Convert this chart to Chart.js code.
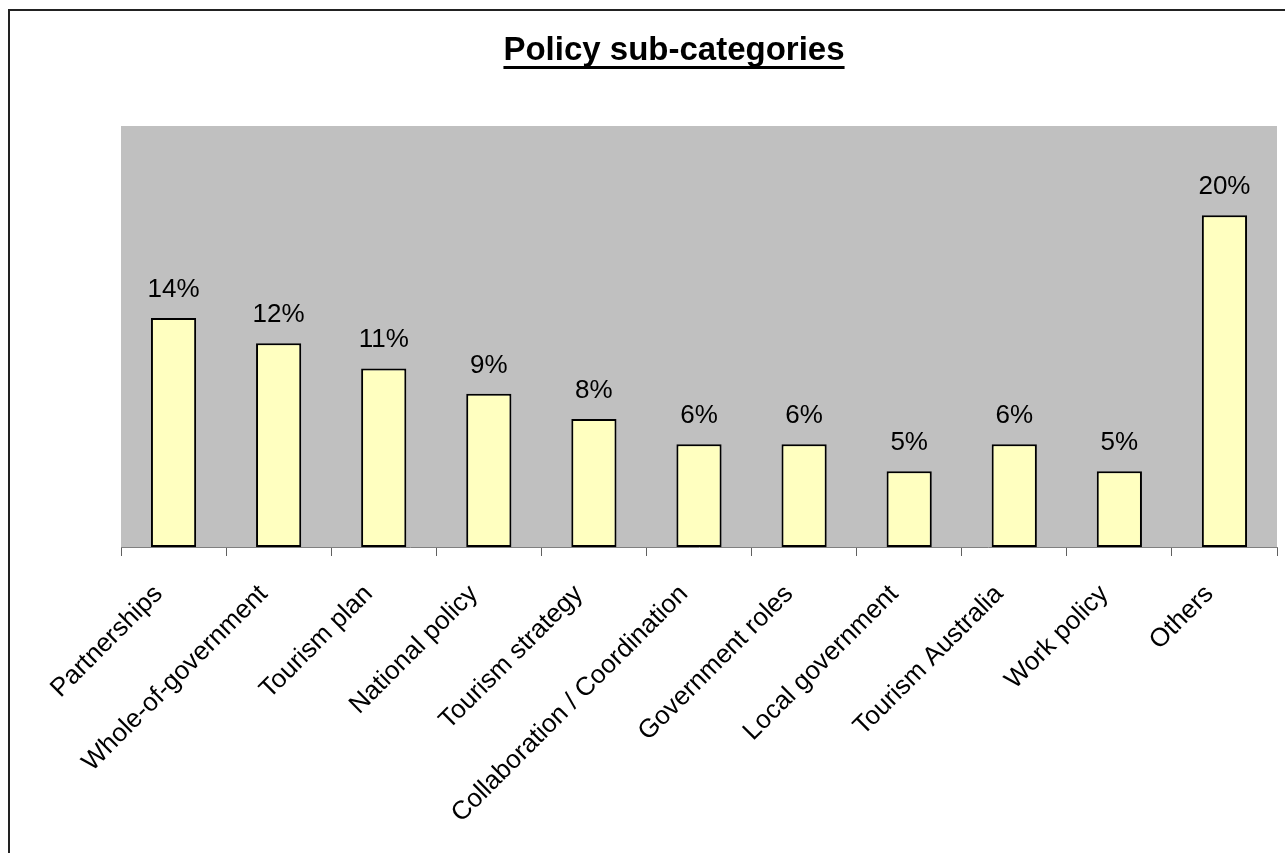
<!DOCTYPE html>
<html>
<head>
<meta charset="utf-8">
<script src="https://cdn.jsdelivr.net/npm/chart.js@4/dist/chart.umd.min.js"></script>
<style>
  html, body { margin: 0; padding: 0; background: #fff; }
  #wrap { position: relative; width: 1285px; height: 853px; }
</style>
</head>
<body>
<div id="wrap"><canvas id="chart" width="1285" height="853"></canvas></div>
<script>
// chart data
const chartTitle = 'Policy sub-categories';
const categories = ['Partnerships', 'Whole-of-government', 'Tourism plan', 'National policy',
  'Tourism strategy', 'Collaboration / Coordination', 'Government roles', 'Local government',
  'Tourism Australia', 'Work policy', 'Others'];
const shares = [13.6, 12.1, 10.6, 9.1, 7.6, 6.1, 6.1, 4.5, 6.1, 4.5, 19.7];
const shareLabels = ['14%', '12%', '11%', '9%', '8%', '6%', '6%', '5%', '6%', '5%', '20%'];

const FONT = '"Liberation Sans", Arial, sans-serif';

// background, frame, gray plot area and underlined title
const decor = {
  id: 'decor',
  beforeDraw(chart) {
    const { ctx, chartArea: a } = chart;
    ctx.save();
    ctx.fillStyle = '#fff';
    ctx.fillRect(0, 0, chart.width, chart.height);
    ctx.fillStyle = '#C0C0C0';
    ctx.fillRect(a.left, a.top, a.right - a.left, a.bottom - a.top);
    ctx.strokeStyle = '#222';
    ctx.lineWidth = 2;
    ctx.strokeRect(9, 10, chart.width + 50, chart.height + 50);
    // title
    ctx.font = 'bold 33px ' + FONT;
    ctx.fillStyle = '#000';
    ctx.textAlign = 'center';
    ctx.textBaseline = 'alphabetic';
    const cx = 674;
    ctx.fillText(chartTitle, cx, 60);
    const w = ctx.measureText(chartTitle).width;
    ctx.fillRect(cx - w / 2, 66, w, 3);
    ctx.restore();
  },
  afterDatasetsDraw(chart) {
    const { ctx } = chart;
    const meta = chart.getDatasetMeta(0);
    ctx.save();
    ctx.font = '26px ' + FONT;
    ctx.fillStyle = '#000';
    ctx.textAlign = 'center';
    ctx.textBaseline = 'alphabetic';
    meta.data.forEach((bar, i) => {
      ctx.fillText(shareLabels[i], bar.x, bar.y - 21);
    });
    ctx.restore();
  }
};

new Chart(document.getElementById('chart'), {
  type: 'bar',
  data: {
    labels: categories,
    datasets: [{
      data: shares,
      backgroundColor: '#FFFFC0',
      borderColor: '#000',
      borderWidth: 2,
      borderSkipped: false,
      categoryPercentage: 1,
      barPercentage: 0.43
    }]
  },
  options: {
    responsive: false,
    animation: false,
    layout: { padding: { left: 121, right: 8, top: 126, bottom: 0 } },
    plugins: {
      legend: { display: false },
      title: { display: false },
      tooltip: { enabled: false }
    },
    scales: {
      y: { display: false, min: 0, max: 25 },
      x: {
        afterFit(scale) { scale.height = 306; },
        border: { display: true, color: '#808080', width: 1 },
        grid: {
          display: true,
          offset: true,
          drawOnChartArea: false,
          tickLength: 9,
          color: '#606060'
        },
        ticks: {
          color: '#000',
          font: { family: FONT, size: 26 },
          minRotation: 45,
          maxRotation: 45,
          autoSkip: false,
          padding: 23,
          labelOffset: -15
        }
      }
    }
  },
  plugins: [decor]
});
</script>
</body>
</html>
